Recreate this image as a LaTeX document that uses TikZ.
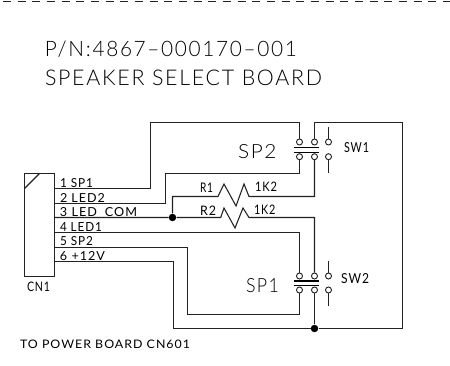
\documentclass[tikz,border=0pt]{standalone}
\usepackage{fontspec}
\setmainfont[LetterSpace=8]{Lato Light}
\newfontfamily\smallcad[LetterSpace=8]{Lato}
\usetikzlibrary{calc}
\newdimen\px \px=0.75pt
\newcommand{\cadtext}[6]{\node[cad] (#1) at (#2,#3) {\resizebox{#4\px}{#5\px}{#6}};}
\newcommand{\cadsmall}[6]{\node[cad] (#1) at (#2,#3) {\resizebox{#4\px}{#5\px}{\smallcad #6}};}
\definecolor{ink}{HTML}{222222}
\tikzset{
  wire/.style={draw=ink,line width=0.8pt,line join=miter},
  contact/.style={circle,draw=ink,line width=0.7pt,minimum size=4.5pt,inner sep=0pt},
  junction/.style={circle,fill=black,minimum size=5.6pt,inner sep=0pt},
  cad/.style={anchor=base west,inner sep=0pt,outer sep=0pt,text=black},
}
\begin{document}
\begin{tikzpicture}[x=0.75pt,y=-0.75pt]
\useasboundingbox (0,0) rectangle (450,366);
\fill[white] (0,0) rectangle (450,366);
% dashed top border
\coordinate (dl) at (3,1.8);
\coordinate (dr) at (450,1.8);
\draw[draw=ink,line width=0.8pt,dash pattern=on 6pt off 5pt] (dl) -- (dr);
% titles
\cadtext{pn}{45}{57}{252}{15.5}{P/N:4867--000170--001}
\cadtext{ssb}{45}{85.5}{277}{15.5}{SPEAKER SELECT BOARD}
% connector
\node[draw=ink,line width=0.8pt,outer sep=0pt,minimum width=22.5pt,minimum height=77.25pt,inner sep=0pt,anchor=north west] (cn) at (24.5,173.5) {};
\draw[wire] ($(cn.north west)+(0,15)$) coordinate (dg) -- ($(cn.north west)+(15,0)$);
\cadsmall{cn1}{27}{292}{23}{9.5}{CN1}
\foreach \n/\y in {1/188.5,2/203.5,3/217.5,4/232.5,5/247.5,6/261.5}{\coordinate (p\n) at (54.5,\y);}
\cadsmall{l1}{60}{187.5}{33}{9}{1 SP1}
\cadsmall{l2}{60}{202.3}{45}{9}{2 LED2}
\cadsmall{l3}{60}{216.5}{77}{9}{3 LED\_COM}
\cadsmall{l4}{60}{231.3}{42}{9}{4 LED1}
\cadsmall{l5}{60}{246}{33}{9}{5 SP2}
\cadsmall{l6}{60}{260.5}{45}{9}{6 +12V}
% contacts
\foreach \nm/\x/\y in {a/299.5/142,b/314.5/142,c/299.5/156.7,d/314.5/156.7,e/328.5/142,f/328.5/156.7,
  g/299.5/276,h/314.5/276,i/299.5/290,j/314.5/290,k/328.5/276,l/328.5/290}{\node[contact] (\nm) at (\x,\y) {};}
\foreach \y in {147.5,152.5,281,285.5}{\draw[draw=black,line width=1.2pt] (294,\y) -- (318.7,\y);}
\draw[wire] (e.north) -- ++(0,-12);
\draw[wire] (f.south) -- ++(0,12.5);
\draw[wire] (k.north) -- ++(0,-12);
\draw[wire] (l.south) -- ++(0,13);
% junctions
\node[junction] (j1) at (172.5,217.5) {};
\node[junction] (j2) at (314.5,328.5) {};
% wiring
\draw[wire] (p1) -- (150.5,188.5) -- (150.5,122.5) -- (299.5,122.5) -- (a.north);
\draw[wire] (p2) -- (165.5,203.5) -- (165.5,173.5) -- (299.5,173.5) -- (c.south);
\draw[wire] (j1) -- (172.5,196.5) -- (218,196.5) -- (224,184) -- (236,206) -- (244,184) -- (249,196.5) -- (314.5,196.5) -- (d.south);
\draw[wire] (p3) -- (j1) -- (220.7,217.5) -- (224,208) -- (235,228) -- (243,208) -- (249,217.5) -- (314.5,217.5) -- (h.north);
\draw[wire] (p4) -- (299.5,232.5) -- (g.north);
\draw[wire] (p5) -- (187.5,247.5) -- (187.5,314.5) -- (299.5,314.5) -- (i.south);
\draw[wire] (p6) -- (173.5,261.5) -- (173.5,328.5) -- (j2);
\draw[wire] (j2) -- (j.south);
\draw[wire] (j2) -- (402.5,328.5) -- (402.5,122.5) -- (314.5,122.5) -- (b.north);
% labels
\cadtext{sp2}{238}{159}{38.5}{14}{SP2}
\cadtext{sp1}{246}{293}{33}{14}{SP1}
\cadsmall{sw1}{344}{153}{25}{10}{SW1}
\cadsmall{sw2}{341}{284}{28}{10}{SW2}
\cadsmall{r1}{200}{192.5}{13}{9.5}{R1}
\cadsmall{r2}{200}{215.5}{16}{9.5}{R2}
\cadsmall{k1}{255}{192}{22}{9.5}{1K2}
\cadsmall{k2}{254}{215}{21.5}{9.5}{1K2}
\cadsmall{to}{20}{349}{170}{8.5}{TO POWER BOARD CN601}
\end{tikzpicture}
\end{document}
